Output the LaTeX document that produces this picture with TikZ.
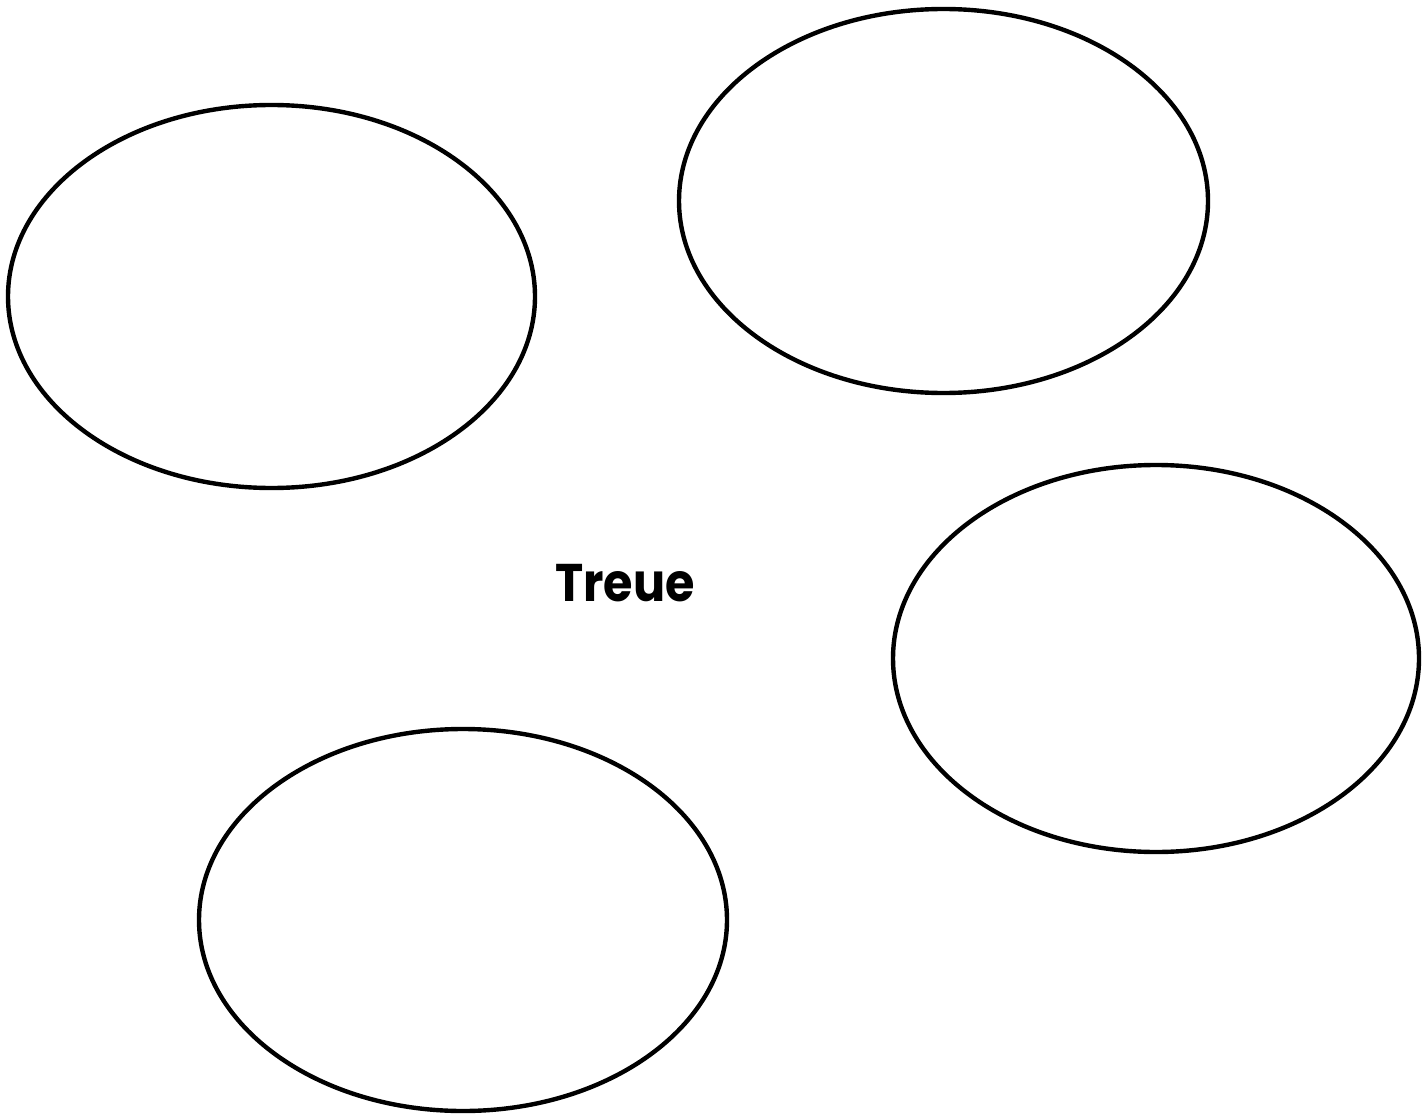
\documentclass[tikz,border=0pt]{standalone}
\usepackage{fontspec}
\setmainfont{Poppins}
\usetikzlibrary{shapes.geometric}
\tikzset{
  bubble/.style={draw=black, line width=4.4pt, ellipse, inner sep=0pt, fill=none},
  titletext/.style={font=\fontsize{53}{58}\selectfont\bfseries, inner sep=0pt}
}
\begin{document}
\begin{tikzpicture}[x=1pt,y=-1pt]
\useasboundingbox (0,0) rectangle (1426,1115);
\node[bubble, minimum width=527pt, minimum height=383pt] (e1) at (271.5,296.5) {};
\node[bubble, minimum width=529pt, minimum height=384pt] (e2) at (943.5,201) {};
\node[bubble, minimum width=526pt, minimum height=387pt] (e3) at (1156,658.5) {};
\node[bubble, minimum width=528pt, minimum height=382pt] (e4) at (463,920) {};
\node[titletext, xscale=0.9] (t) at (625,583) {Treue};
\end{tikzpicture}
\end{document}
